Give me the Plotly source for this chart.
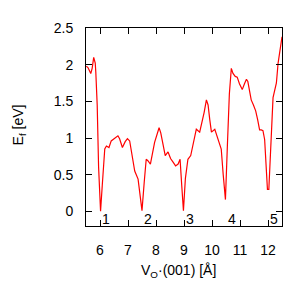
import plotly.graph_objects as go

x_vals = [5.51, 5.57, 5.67, 5.72, 5.775, 5.83, 5.85, 5.90, 5.95, 6.0, 6.02, 6.08, 6.14, 6.17, 6.23, 6.32,
          6.40, 6.52, 6.64, 6.70, 6.80, 6.90, 6.98, 7.06, 7.18, 7.24, 7.36, 7.43, 7.50, 7.58, 7.65,
          7.71, 7.80, 7.95, 8.05, 8.11, 8.17, 8.25, 8.33, 8.43, 8.52, 8.61, 8.70, 8.79, 8.86, 8.92,
          8.98, 9.05, 9.14, 9.24, 9.32, 9.44, 9.56, 9.64, 9.72, 9.80, 9.86, 9.92, 9.98, 10.10, 10.21,
          10.33, 10.40, 10.48, 10.55, 10.62, 10.69, 10.75, 10.83, 10.90, 10.98, 11.08, 11.16, 11.23,
          11.28, 11.34, 11.40, 11.48, 11.56, 11.63, 11.70, 11.76, 11.82, 11.88, 11.93, 11.98, 12.03,
          12.09, 12.15, 12.18, 12.30, 12.36, 12.50]
e_vals = [1.98, 1.96, 1.88, 1.95, 2.10, 2.02, 1.90, 1.45, 0.60, 0.02, 0.00, 0.35, 0.75, 0.85, 0.89, 0.87,
          0.96, 1.00, 1.03, 0.99, 0.87, 0.95, 0.99, 0.96, 0.71, 0.55, 0.44, 0.20, 0.01, 0.40, 0.71,
          0.69, 0.645, 0.94, 1.07, 1.14, 1.07, 0.90, 0.76, 0.81, 0.72, 0.67, 0.62, 0.645, 0.71, 0.35,
          0.01, 0.45, 0.71, 0.76, 0.89, 1.12, 1.08, 1.21, 1.35, 1.52, 1.45, 1.25, 1.08, 1.12, 1.00,
          0.85, 0.50, 0.16, 0.90, 1.60, 1.95, 1.88, 1.84, 1.83, 1.74, 1.66, 1.74, 1.80,
          1.77, 1.65, 1.52, 1.45, 1.37, 1.25, 1.11, 1.11, 1.10, 0.98, 0.60, 0.30, 0.30,
          0.90, 1.45, 1.55, 1.75, 2.02, 2.38]

site_labels = ["1", "2", "3", "4", "5"]
site_x = [6.0, 7.5, 9.0, 10.5, 12.0]
site_y = -0.10

x_ticks = [6, 7, 8, 9, 10, 11, 12]
y_ticks = [0, 0.5, 1, 1.5, 2, 2.5]
y_tick_text = ["0", "0.5", "1", "1.5", "2", "2.5"]

FONT = "Liberation Sans, Arial, sans-serif"
FS = 14

fig = go.Figure()
fig.add_trace(go.Scatter(x=x_vals, y=e_vals, mode="lines",
                         line=dict(color="#ff0000", width=1.2), showlegend=False))

for lab, sx in zip(site_labels, site_x):
    fig.add_annotation(x=sx, y=site_y, text=lab, showarrow=False, xanchor="left",
                       yanchor="middle", font=dict(family=FONT, size=FS, color="black"))

fig.add_annotation(xref="paper", yref="paper", x=-0.34, y=0.51, text="E<sub>f</sub> [eV]",
                   textangle=-90, showarrow=False, xanchor="center", yanchor="middle",
                   font=dict(family=FONT, size=FS, color="black"))
fig.add_annotation(xref="paper", yref="paper", x=0.47, y=-0.228, text="V<sub>O</sub>·(001) [Å]",
                   showarrow=False, xanchor="center", yanchor="middle",
                   font=dict(family=FONT, size=FS, color="black"))

axis_common = dict(showgrid=False, zeroline=False, showline=True, linecolor="black", linewidth=1,
                   mirror="ticks", ticks="inside", ticklen=6, tickcolor="black", tickwidth=1,
                   tickfont=dict(family=FONT, size=FS, color="black"))

fig.update_xaxes(range=[5.5, 12.5], tickvals=x_ticks, ticklabelstandoff=11, **axis_common)
fig.update_yaxes(range=[-0.2, 2.5], tickvals=y_ticks, ticktext=y_tick_text,
                 ticklabelstandoff=9, **axis_common)

fig.update_layout(width=300, height=300, margin=dict(l=78, r=26, t=18, b=82),
                  plot_bgcolor="white", paper_bgcolor="white",
                  font=dict(family=FONT, size=FS, color="black"))

fig.write_html("out.html")
